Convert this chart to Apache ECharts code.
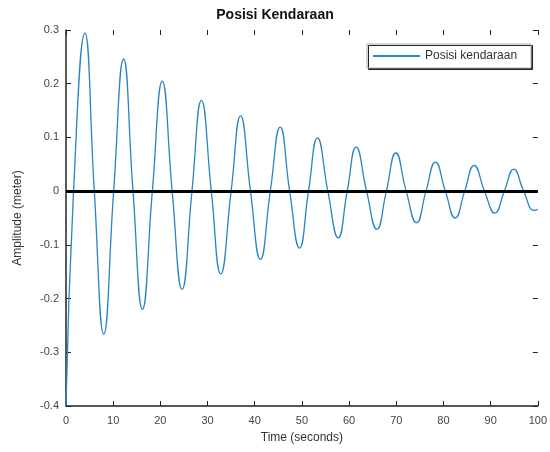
<!DOCTYPE html>
<html><head><meta charset="utf-8">
<script src="https://cdn.jsdelivr.net/npm/echarts@6/dist/echarts.min.js"></script>
<style>html,body{margin:0;padding:0;background:#fff}#c{width:550px;height:452px}</style>
</head><body><div id="c"></div>
<script>
// Time (s) of read points: start, extrema and zero crossings
const timeSec = [0,1.6,4.0,6.0,8.0,10.1,12.2,14.2,16.2,18.3,20.4,22.5,24.6,26.7,28.7,30.8,32.8,35.0,37.0,39.1,41.2,43.3,45.4,47.4,49.5,51.4,53.3,55.5,57.7,59.6,61.5,63.7,65.9,67.9,69.9,72.1,74.3,76.3,78.3,80.4,82.5,84.5,86.5,88.7,90.9,92.9,94.9,97.0,99.2,100];
// Amplitude (meter)
const posisi = [-0.40,0,0.294,0,-0.266,0,0.246,0,-0.220,0,0.205,0,-0.183,0,0.169,0,-0.154,0,0.140,0,-0.127,0,0.119,0,-0.106,0,0.099,0,-0.087,0,0.082,0,-0.071,0,0.071,0,-0.059,0,0.054,0,-0.050,0,0.048,0,-0.041,0,0.041,0,-0.036,-0.034];
const xTicks = [0,10,20,30,40,50,60,70,80,90,100];
const yTicks = [-0.4,-0.3,-0.2,-0.1,0,0.1,0.2,0.3];

const font = 'Liberation Sans, Arial, sans-serif';
const chart = echarts.init(document.getElementById('c'), null, {renderer:'canvas'});
const tickStyle = {show:true, inside:true, length:5, lineStyle:{color:'#222', width:1}};
chart.setOption({
  animation:false,
  backgroundColor:'#fff',
  title:{text:'Posisi Kendaraan', left:'center', top:3, textStyle:{fontFamily:font, fontSize:14, fontWeight:'bold', color:'#111'}},
  legend:{
    show:true, data:['Posisi kendaraan'], left:367, top:44, padding:[6,14,6,6],
    itemWidth:47, itemHeight:2, itemGap:5, icon:'rect',
    borderColor:'#aaa', borderWidth:1, backgroundColor:'#fff',
    shadowColor:'#222', shadowOffsetX:1.5, shadowOffsetY:1.5, shadowBlur:0,
    textStyle:{fontFamily:font, fontSize:12, color:'#333'}
  },
  grid:{left:66, right:9, top:30, bottom:46, containLabel:false},
  xAxis:[{
    type:'value', min:xTicks[0], max:xTicks[xTicks.length-1], interval:10,
    name:'Time (seconds)', nameLocation:'middle', nameGap:26,
    nameTextStyle:{fontFamily:font, fontSize:12, color:'#333'},
    axisLine:{show:true, onZero:false, lineStyle:{color:'#222', width:1.5}},
    axisTick:tickStyle, splitLine:{show:false},
    axisLabel:{fontFamily:font, fontSize:11, color:'#444', margin:9}
  },{
    type:'value', position:'top', min:xTicks[0], max:xTicks[xTicks.length-1], interval:10,
    axisLine:{show:false, onZero:false}, axisTick:tickStyle, axisLabel:{show:false}, splitLine:{show:false}
  }],
  yAxis:[{
    type:'value', min:yTicks[0], max:yTicks[yTicks.length-1], interval:0.1,
    name:'Amplitude (meter)', nameLocation:'middle', nameGap:42,
    nameTextStyle:{fontFamily:font, fontSize:12, color:'#333'},
    axisLine:{show:true, onZero:false, lineStyle:{color:'#222', width:1.5}},
    axisTick:tickStyle, splitLine:{show:false},
    axisLabel:{fontFamily:font, fontSize:11, color:'#444', margin:7}
  },{
    type:'value', position:'right', min:yTicks[0], max:yTicks[yTicks.length-1], interval:0.1,
    axisLine:{show:false, onZero:false}, axisTick:tickStyle, axisLabel:{show:false}, splitLine:{show:false}
  }],
  series:[{
    name:'Posisi kendaraan', type:'line', smooth:0.5, showSymbol:false, symbol:'none',
    data: timeSec.map((t,i)=>[t, posisi[i]]),
    lineStyle:{color:'#2a85c3', width:1.3}, itemStyle:{color:'#2a85c3'},
    markLine:{silent:true, symbol:['none','none'], label:{show:false},
      lineStyle:{color:'#000', width:3, type:'solid'}, data:[{yAxis:0}]}
  }]
});
</script></body></html>
